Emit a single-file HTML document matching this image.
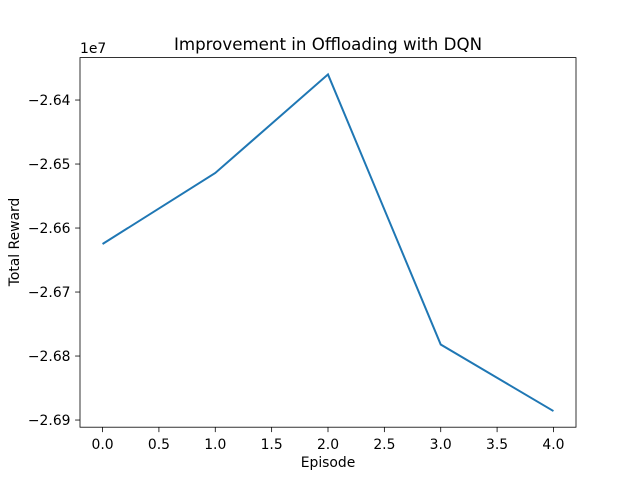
<!DOCTYPE html>
<html><head><meta charset="utf-8"><style>body{margin:0;background:#fff}svg{display:block;font-family:"DejaVu Sans","Liberation Sans",sans-serif}</style></head>
<body>
<svg id="chart" width="640" height="480"></svg>
<script>
const episodes=[0,1,2,3,4];
const rewards=[-2.6625,-2.6514,-2.6360,-2.6782,-2.6886];
const xTicks=[0,0.5,1,1.5,2,2.5,3,3.5,4];
const xTickLabels=["0.0","0.5","1.0","1.5","2.0","2.5","3.0","3.5","4.0"];
const yTicks=[-2.64,-2.65,-2.66,-2.67,-2.68,-2.69];
const yTickLabels=["−2.64","−2.65","−2.66","−2.67","−2.68","−2.69"];
const L=80,R=576,T=57.6,B=427.2;
const xMin=-0.2,xMax=4.2;
const yMin=-2.69112,yMax=-2.63337;
const sx=v=>L+(v-xMin)/(xMax-xMin)*(R-L);
const sy=v=>B-(v-yMin)/(yMax-yMin)*(B-T);
const svg=document.getElementById('chart');
const NS='http://www.w3.org/2000/svg';
function mk(t,a,txt){const e=document.createElementNS(NS,t);for(const k in a)e.setAttribute(k,a[k]);if(txt!==undefined)e.textContent=txt;svg.appendChild(e);return e;}
let e;
e=mk('rect',{x:L,y:T,width:R-L,height:B-T,fill:'none',stroke:'#000','stroke-width':0.8});


xTicks.forEach((v,i)=>{const x=sx(v);
e=mk('line',{x1:x,x2:x,y1:B,y2:B+4.9,stroke:'#000','stroke-width':0.8});


e=mk('text',{x:x,y:B+22,'font-size':13.9,'text-anchor':'middle'},xTickLabels[i]);

});
yTicks.forEach((v,i)=>{const y=sy(v);
e=mk('line',{x1:L-4.9,x2:L,y1:y,y2:y,stroke:'#000','stroke-width':0.8});


e=mk('text',{x:L-9.5,y:y+5,'font-size':13.9,'text-anchor':'end'},yTickLabels[i]);

});
e=mk('path',{d:episodes.map((v,i)=>(i?'L':'M')+sx(v)+','+sy(rewards[i])).join(''),fill:'none',stroke:'#1f77b4','stroke-width':2});


e=mk('text',{x:80,y:53,'font-size':13.9},'1e7');


e=mk('text',{x:328,y:50,'font-size':16.67,'text-anchor':'middle'},'Improvement in Offloading with DQN');


e=mk('text',{x:328,y:467,'font-size':13.9,'text-anchor':'middle'},'Episode');


e=mk('text',{x:19,y:242,'font-size':13.9,'text-anchor':'middle',transform:'rotate(-90 19 242)'},'Total Reward');


</script>
</body></html>
